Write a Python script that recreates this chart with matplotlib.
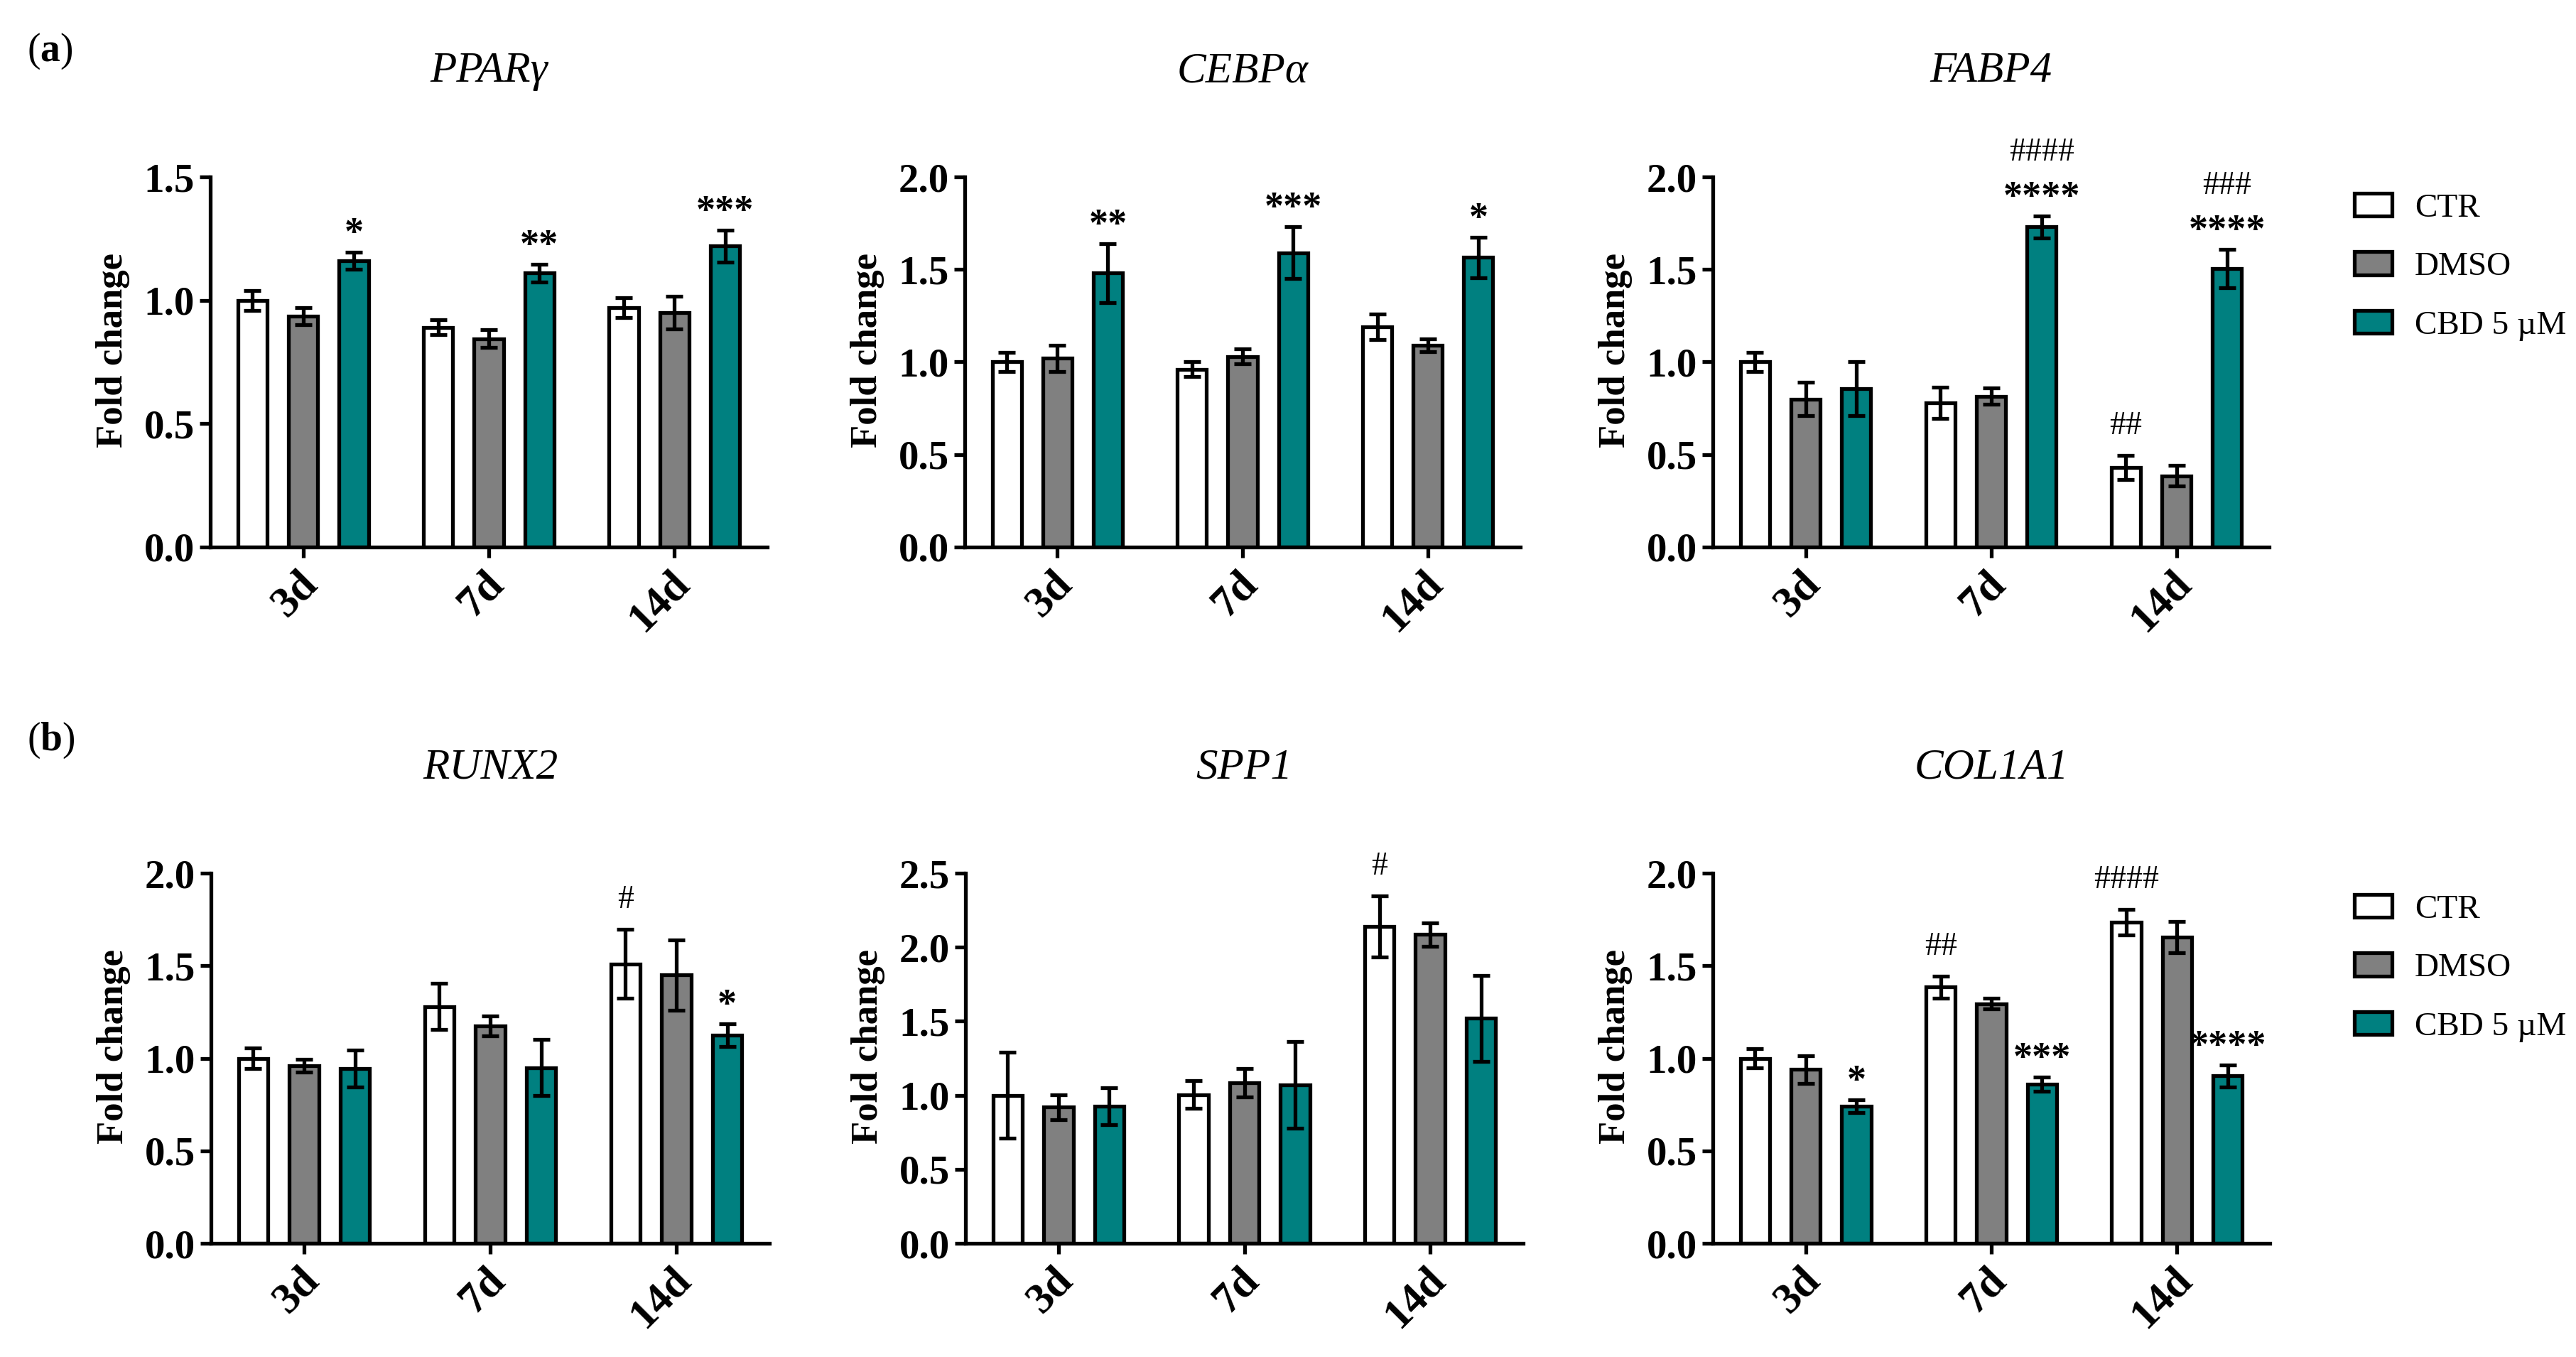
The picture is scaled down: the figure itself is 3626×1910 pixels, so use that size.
import numpy as np
import matplotlib
matplotlib.use("Agg")
import matplotlib.pyplot as plt
from matplotlib.transforms import ScaledTranslation

plt.rcParams['font.family'] = ['Liberation Serif', 'DejaVu Serif']
plt.rcParams['mathtext.fontset'] = 'custom'
plt.rcParams['mathtext.rm'] = 'Liberation Serif'
plt.rcParams['mathtext.bf'] = 'Liberation Serif:bold'

WIDTH, HEIGHT = 3626, 1910
DPI = 100
LW = 3.8

DAYS = ["3d", "7d", "14d"]
GROUPS = ["CTR", "DMSO", "CBD 5 µM"]
COLORS = ["white", "#808080", "#008080"]

# rows are CTR, DMSO, CBD and columns are 3d, 7d, 14d
PPARG_MEAN = [[1.00, 0.89, 0.97], [0.935, 0.845, 0.95], [1.16, 1.11, 1.22]]
PPARG_ERR = [[0.04, 0.03, 0.04], [0.035, 0.035, 0.065], [0.035, 0.035, 0.065]]
PPARG_STARS = ["*", "**", "***"]
PPARG_HASH_CTR = ["", "", ""]
PPARG_HASH_CBD = ["", "", ""]

CEBPA_MEAN = [[1.00, 0.96, 1.19], [1.02, 1.03, 1.09], [1.48, 1.59, 1.565]]
CEBPA_ERR = [[0.05, 0.04, 0.07], [0.07, 0.04, 0.035], [0.16, 0.14, 0.11]]
CEBPA_STARS = ["**", "***", "*"]
CEBPA_HASH_CTR = ["", "", ""]
CEBPA_HASH_CBD = ["", "", ""]

FABP4_MEAN = [[1.00, 0.78, 0.43], [0.80, 0.815, 0.385], [0.855, 1.73, 1.505]]
FABP4_ERR = [[0.05, 0.085, 0.065], [0.09, 0.045, 0.055], [0.145, 0.06, 0.105]]
FABP4_STARS = ["", "****", "****"]
FABP4_HASH_CTR = ["", "", "##"]
FABP4_HASH_CBD = ["", "####", "###"]

RUNX2_MEAN = [[1.00, 1.28, 1.51], [0.96, 1.175, 1.45], [0.945, 0.95, 1.125]]
RUNX2_ERR = [[0.055, 0.125, 0.185], [0.035, 0.055, 0.19], [0.10, 0.15, 0.06]]
RUNX2_STARS = ["", "", "*"]
RUNX2_HASH_CTR = ["", "", "#"]
RUNX2_HASH_CBD = ["", "", ""]

SPP1_MEAN = [[1.00, 1.005, 2.14], [0.92, 1.085, 2.085], [0.925, 1.07, 1.52]]
SPP1_ERR = [[0.29, 0.095, 0.205], [0.085, 0.095, 0.08], [0.125, 0.295, 0.29]]
SPP1_STARS = ["", "", ""]
SPP1_HASH_CTR = ["", "", "#"]
SPP1_HASH_CBD = ["", "", ""]

COL1A1_MEAN = [[1.00, 1.385, 1.735], [0.94, 1.295, 1.655], [0.74, 0.86, 0.905]]
COL1A1_ERR = [[0.05, 0.06, 0.07], [0.075, 0.03, 0.085], [0.035, 0.04, 0.06]]
COL1A1_STARS = ["*", "***", "****"]
COL1A1_HASH_CTR = ["", "##", "####"]
COL1A1_HASH_CBD = ["", "", ""]

YTICKS_15 = [0.0, 0.5, 1.0, 1.5]
YTICKS_20 = [0.0, 0.5, 1.0, 1.5, 2.0]
YTICKS_25 = [0.0, 0.5, 1.0, 1.5, 2.0, 2.5]


def px_to_pt(px):
    return px * 72 / DPI


def make_axes(fig, left, right, top, bottom):
    return fig.add_axes([left / WIDTH, 1 - bottom / HEIGHT, (right - left) / WIDTH, (bottom - top) / HEIGHT])


def draw_panel(ax, title, means, errs, yticks, stars, hash_ctr, hash_cbd, legend_drop=None):
    x = np.arange(len(DAYS))
    offset = 0.273
    for i in range(3):
        ax.bar(x + (i - 1) * offset, means[i], width=0.158, color=COLORS[i], edgecolor="black",
               linewidth=LW, label=GROUPS[i], yerr=errs[i],
               error_kw=dict(ecolor="black", elinewidth=LW, capsize=px_to_pt(12), capthick=LW))

    # significance marks sit a fixed distance above the error bar
    for j in range(len(DAYS)):
        tip_ctr = means[0][j] + errs[0][j]
        tip_cbd = means[2][j] + errs[2][j]
        if stars[j]:
            ax.annotate(stars[j], (x[j] + offset, tip_cbd), xytext=(0, px_to_pt(12)), textcoords="offset points",
                        ha="center", va="baseline", fontsize=39, fontweight="bold")
        if hash_ctr[j]:
            ax.annotate(hash_ctr[j], (x[j] - offset, tip_ctr), xytext=(0, px_to_pt(30)), textcoords="offset points",
                        ha="center", va="baseline", fontsize=33)
        if hash_cbd[j]:
            ax.annotate(hash_cbd[j], (x[j] + offset, tip_cbd), xytext=(0, px_to_pt(78)), textcoords="offset points",
                        ha="center", va="baseline", fontsize=33)

    ax.set_xlim(-0.5, 2.5)
    ax.set_ylim(yticks[0], yticks[-1])
    ax.set_xticks(x)
    ax.set_xticklabels(DAYS, rotation=45, ha="right", va="top", rotation_mode="anchor",
                       fontsize=44, fontweight="bold")
    ax.set_yticks(yticks)
    ax.set_yticklabels([f"{t:.1f}" for t in yticks], fontsize=41, fontweight="bold")
    ax.tick_params(axis="both", length=px_to_pt(15), width=LW)
    ax.tick_params(axis="y", pad=5)
    ax.tick_params(axis="x", pad=6)

    # slide the slanted labels left of their ticks
    shift = ScaledTranslation(-px_to_pt(8) / 72, 0, ax.figure.dpi_scale_trans)
    for label in ax.get_xticklabels():
        label.set_transform(label.get_transform() + shift)

    for side in ["top", "right"]:
        ax.spines[side].set_visible(False)
    for side in ["left", "bottom"]:
        ax.spines[side].set_linewidth(LW)

    ax.set_ylabel("Fold change", fontsize=38, fontweight="bold")
    ax.yaxis.set_label_coords(-0.144, 0.532)
    ax.set_title(title, fontsize=44, fontstyle="italic", pad=px_to_pt(134))

    if legend_drop is not None:
        ax_box = ax.get_position()
        ax.legend(loc="upper left", bbox_to_anchor=(3314 / WIDTH, ax_box.y1 - legend_drop / HEIGHT),
                  bbox_transform=ax.figure.transFigure, frameon=False, fontsize=34, borderpad=0, borderaxespad=0,
                  handlelength=1.12, handleheight=0.68, handletextpad=0.68, labelspacing=0.84)


fig = plt.figure(figsize=(WIDTH / DPI, HEIGHT / DPI), dpi=DPI, facecolor="white")

ax = make_axes(fig, 296, 1080, 249, 770)
draw_panel(ax, "PPARγ", PPARG_MEAN, PPARG_ERR, YTICKS_15, PPARG_STARS, PPARG_HASH_CTR, PPARG_HASH_CBD)
ax = make_axes(fig, 1358, 2140, 249, 770)
draw_panel(ax, "CEBPα", CEBPA_MEAN, CEBPA_ERR, YTICKS_20, CEBPA_STARS, CEBPA_HASH_CTR, CEBPA_HASH_CBD)
ax = make_axes(fig, 2411, 3194, 249, 770)
draw_panel(ax, "FABP4", FABP4_MEAN, FABP4_ERR, YTICKS_20, FABP4_STARS, FABP4_HASH_CTR, FABP4_HASH_CBD, legend_drop=23)

ax = make_axes(fig, 297, 1083, 1229, 1750)
draw_panel(ax, "RUNX2", RUNX2_MEAN, RUNX2_ERR, YTICKS_20, RUNX2_STARS, RUNX2_HASH_CTR, RUNX2_HASH_CBD)
ax = make_axes(fig, 1359, 2144, 1229, 1750)
draw_panel(ax, "SPP1", SPP1_MEAN, SPP1_ERR, YTICKS_25, SPP1_STARS, SPP1_HASH_CTR, SPP1_HASH_CBD)
ax = make_axes(fig, 2411, 3195, 1229, 1750)
draw_panel(ax, "COL1A1", COL1A1_MEAN, COL1A1_ERR, YTICKS_20, COL1A1_STARS, COL1A1_HASH_CTR, COL1A1_HASH_CBD, legend_drop=30)

fig.text(38 / WIDTH, 1 - 72 / HEIGHT, r"$\mathrm{(}\mathbf{a}\mathrm{)}$", fontsize=40, va="center")
fig.text(38 / WIDTH, 1 - 1042 / HEIGHT, r"$\mathrm{(}\mathbf{b}\mathrm{)}$", fontsize=40, va="center")

fig.savefig("out.png", dpi=DPI)
